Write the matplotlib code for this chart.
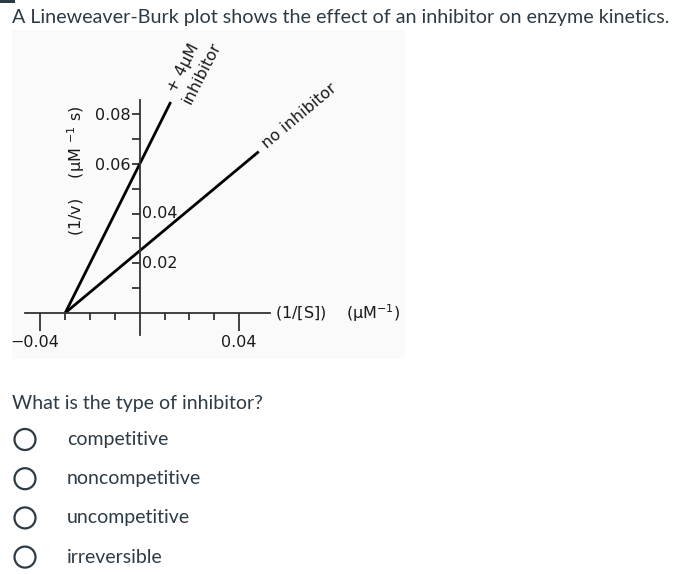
import matplotlib
matplotlib.use("Agg")
import matplotlib.pyplot as plt
from matplotlib.patches import Circle, Rectangle
from matplotlib.transforms import ScaledTranslation

# data
x_intercept = -0.03
no_inhib_x = [x_intercept, 0.048]
no_inhib_y = [0.0, 0.065]
inhib_x = [x_intercept, 0.0125]
inhib_y = [0.0, 0.085]

x_major = [-0.04, 0.04]
x_major_labels = ["\u22120.04", "0.04"]
x_minor = [-0.03, -0.02, -0.01, 0.01, 0.02, 0.03]
y_ticks = [0.01, 0.02, 0.03, 0.04, 0.05, 0.06, 0.07, 0.08]
y_left_labels = {0.06: "0.06", 0.08: "0.08"}
y_right_labels = {0.02: "0.02", 0.04: "0.04"}

title = "A Lineweaver-Burk plot shows the effect of an inhibitor on enzyme kinetics."
question = "What is the type of inhibitor?"
options = ["competitive", "noncompetitive", "uncompetitive", "irreversible"]

W, H = 678, 574
PAGE_COLOR = "#2d3b45"
INK = "#1a1a1a"
GFS = 11.5  # graph font size

plt.rcParams["mathtext.fontset"] = "dejavusans"

fig = plt.figure(figsize=(W / 100, H / 100), dpi=100)

# page layer in pixel units
page = fig.add_axes([0, 0, 1, 1])
page.set_xlim(0, W)
page.set_ylim(H, 0)
page.axis("off")
page.add_patch(Rectangle((0, 0), 15, 3, color=PAGE_COLOR, lw=0))
page.add_patch(Rectangle((12, 30), 393, 329, color="#fafafa", lw=0))
page.text(12, 18, title, fontsize=14.2, family="Lato", color=PAGE_COLOR, va="center", ha="left")
page.text(12, 403, question, fontsize=14, family="Lato", color=PAGE_COLOR, va="center", ha="left")
for i, opt in enumerate(options):
    yc = 439.5 + i * 39.2
    page.add_patch(Circle((25, yc), 10.5, fill=False, ec=PAGE_COLOR, lw=1.6))
    page.text(67, yc, opt, fontsize=14, family="Lato", color=PAGE_COLOR, va="center", ha="left")

# graph layer: data scale chosen to match the embedded image
px_per_unit = 2480.0
x0_px, y0_px = 139.7, 312.8
left_px, right_px, top_px, bottom_px = 12, 405, 30, 359
ax = fig.add_axes([left_px / W, (H - bottom_px) / H, (right_px - left_px) / W, (bottom_px - top_px) / H])
ax.patch.set_visible(False)
ax.set_xlim((left_px - x0_px) / px_per_unit, (right_px - x0_px) / px_per_unit)
ax.set_ylim((y0_px - bottom_px) / px_per_unit, (y0_px - top_px) / px_per_unit)

for side in ["top", "right"]:
    ax.spines[side].set_visible(False)
ax.spines["left"].set_position(("data", 0))
ax.spines["bottom"].set_position(("data", 0))
ax.spines["left"].set_bounds(-0.009, 0.0858)
ax.spines["bottom"].set_bounds(-0.0462, 0.0525)
for side in ["left", "bottom"]:
    ax.spines[side].set_linewidth(1.3)
    ax.spines[side].set_color("#333333")

ax.set_xticks(x_major)
ax.set_xticklabels(x_major_labels)
ax.set_xticks(x_minor, minor=True)
ax.tick_params(axis="x", which="major", direction="out", length=13, width=1.3, color="#333333",
               labelsize=GFS, labelcolor=INK, pad=3)
ax.tick_params(axis="x", which="minor", direction="out", length=5, width=1.3, color="#333333")
# the negative label sits a little left of its tick in the reference
neg_lab = ax.get_xticklabels()[0]
neg_lab.set_transform(neg_lab.get_transform() + ScaledTranslation(-6 / 100, 0, fig.dpi_scale_trans))

ax.set_yticks(y_ticks)
ax.set_yticklabels([y_left_labels.get(t, "") for t in y_ticks])
ax.tick_params(axis="y", which="major", direction="out", length=6, width=1.3, color="#333333",
               labelsize=GFS, labelcolor=INK, pad=0.5)
for t, lab in y_right_labels.items():
    ax.text(0.0008, t, lab, fontsize=GFS, color=INK, ha="left", va="center")

ax.plot(no_inhib_x, no_inhib_y, color="black", lw=2, solid_capstyle="butt")
ax.plot(inhib_x, inhib_y, color="black", lw=2, solid_capstyle="butt")

# line labels
ax.text(0.0175, 0.0985, "+ 4\u03bcM", fontsize=GFS, color=INK, rotation=63, ha="center", va="center")
ax.text(0.0252, 0.0965, "inhibitor", fontsize=GFS, color=INK, rotation=63, ha="center", va="center")
ax.text(0.0642, 0.0795, "no inhibitor", fontsize=GFS, color=INK, rotation=40, ha="center", va="center")

# axis titles
ax.text((275 - x0_px) / px_per_unit, 0, r"(1/[S])    (μM$^{-1}$)", fontsize=GFS, color=INK,
        ha="left", va="center")
ax.text((76 - x0_px) / px_per_unit, (y0_px - 171) / px_per_unit, r"(1/v)    (μM $^{-1}$ s)",
        fontsize=GFS, color=INK, rotation=90, ha="center", va="center")

fig.savefig("out.png", dpi=100, facecolor="white")
